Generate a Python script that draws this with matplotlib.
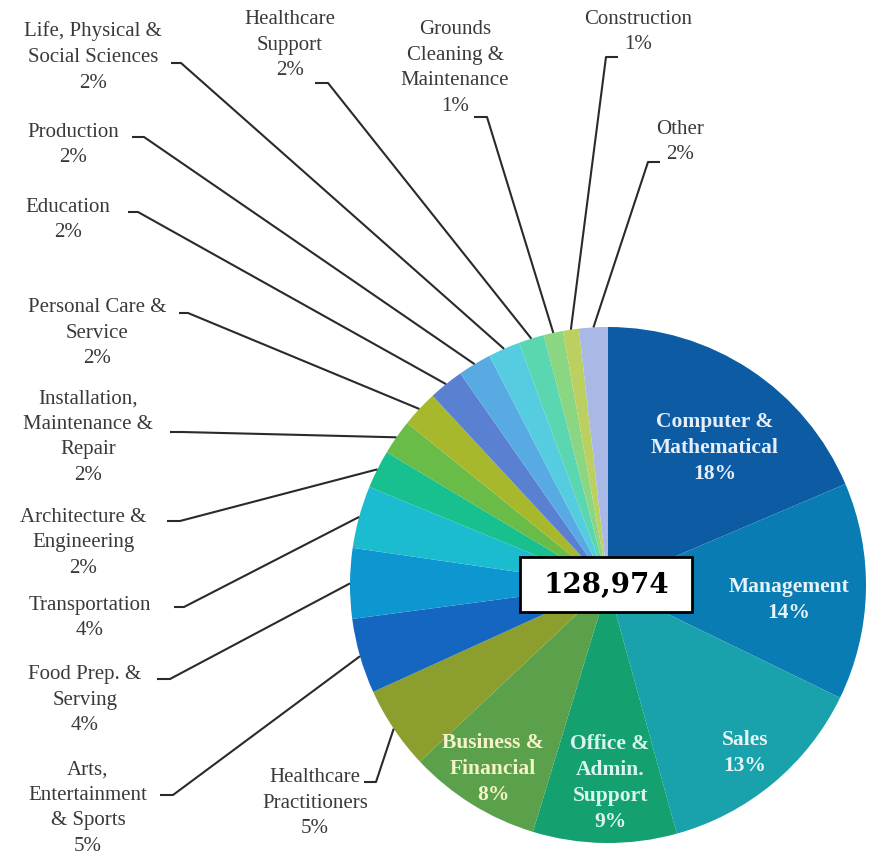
import matplotlib
matplotlib.use("Agg")
import matplotlib.pyplot as plt
from matplotlib.patches import Rectangle
import numpy as np

# ---------------- data ----------------
categories = [
    "Computer &\nMathematical", "Management", "Sales", "Office &\nAdmin.\nSupport",
    "Business &\nFinancial", "Healthcare\nPractitioners", "Arts,\nEntertainment\n& Sports",
    "Food Prep. &\nServing", "Transportation", "Architecture &\nEngineering",
    "Installation,\nMaintenance &\nRepair", "Personal Care &\nService", "Education",
    "Production", "Life, Physical &\nSocial Sciences", "Healthcare\nSupport",
    "Grounds\nCleaning &\nMaintenance", "Construction", "Other",
]
shares = [18.6, 13.6, 13.5, 9.0, 8.3, 5.2, 4.7, 4.4, 3.9, 2.4,
          2.2, 2.3, 2.2, 2.1, 2.0, 1.6, 1.2, 1.0, 1.8]
pct_labels = ["18%", "14%", "13%", "9%", "8%", "5%", "5%", "4%", "4%", "2%",
              "2%", "2%", "2%", "2%", "2%", "2%", "1%", "1%", "2%"]
total_label = "128,974"

colors = ["#0c5ba3", "#0a7cb4", "#19a1ac", "#14a16f", "#5ba04a", "#8c9e2e",
          "#1466c0", "#0e96d0", "#1cbcd0", "#18c090", "#6abc48", "#a8b82c",
          "#5a80d2", "#58aae2", "#55cce0", "#5ad6b0", "#8ad682", "#bcd062",
          "#a9b8e4"]

# ---------------- layout ----------------
W, H = 872, 857
fig = plt.figure(figsize=(W / 100, H / 100), dpi=100)
ax = fig.add_axes([0, 0, 1, 1])

def py(y):  # pixel-from-top -> data y
    return H - y

cx, cy, R = 608, py(585), 258
wedges, _ = ax.pie(shares, colors=colors, startangle=90, counterclock=False,
                   center=(cx, cy), radius=R,
                   wedgeprops=dict(linewidth=0, antialiased=True))
ax.set_xlim(0, W)
ax.set_ylim(0, H)
ax.set_aspect("equal")
ax.axis("off")

serif = ["Liberation Serif", "DejaVu Serif"]
txt_col = "#3a3a3a"

# inside labels: index -> (x, y_center, color)
inside = {
    0: (715, 448, "#e6eefa"),
    1: (789, 600, "#e6f4fa"),
    2: (745, 753, "#e6f6f6"),
    3: (610, 783, "#d8f4ee"),
    4: (493, 769, "#f4f4c8"),
}
for i, (x, y, c) in inside.items():
    ax.text(x, py(y), categories[i] + "\n" + pct_labels[i], ha="center", va="center",
            multialignment="center", fontsize=15.5, fontweight="bold",
            color=c, family=serif, linespacing=1.4)

# outside labels: index -> (text center x, text center y, leader start, leader knee)
outside = {
    5:  (315, 803, (364, 782), (376, 782)),
    6:  (88, 808, (160, 795), (173, 795)),
    7:  (85, 700, (157, 679), (170, 679)),
    8:  (90, 618, (174, 607), (184, 607)),
    9:  (83, 543, (167, 521), (180, 521)),
    10: (88, 437, (170, 432), (182, 432)),
    11: (97, 333, (179, 313), (188, 313)),
    12: (68, 220, (128, 212), (138, 212)),
    13: (73, 145, (132, 137), (144, 137)),
    14: (93, 57, (171, 63), (181, 63)),
    15: (290, 45, (315, 83), (328, 83)),
    16: (455, 68, (474, 117), (487, 117)),
    17: (638, 32, (618, 57), (606, 57)),
    18: (680, 142, (660, 162), (648, 162)),
}
for i, (x, y, s, k) in outside.items():
    ax.text(x, py(y), categories[i] + "\n" + pct_labels[i], ha="center", va="center",
            multialignment="center", fontsize=15, color=txt_col, family=serif,
            linespacing=1.47)
    w = wedges[i]
    mid = np.deg2rad((w.theta1 + w.theta2) / 2)
    ex = w.center[0] + w.r * np.cos(mid)
    ey = w.center[1] + w.r * np.sin(mid)
    ax.plot([s[0], k[0], ex], [py(s[1]), py(k[1]), ey], color="#2a2a2a",
            lw=1.5, solid_capstyle="butt", zorder=3)

# center total box
ax.add_patch(Rectangle((520, py(612)), 172, 55, facecolor="white",
                       edgecolor="black", lw=2, zorder=5))
ax.text(606, py(585), total_label, ha="center", va="center", fontsize=20,
        fontweight="bold", family=["DejaVu Serif"], color="black", zorder=6)

fig.savefig("out.png", dpi=100, facecolor="white")
